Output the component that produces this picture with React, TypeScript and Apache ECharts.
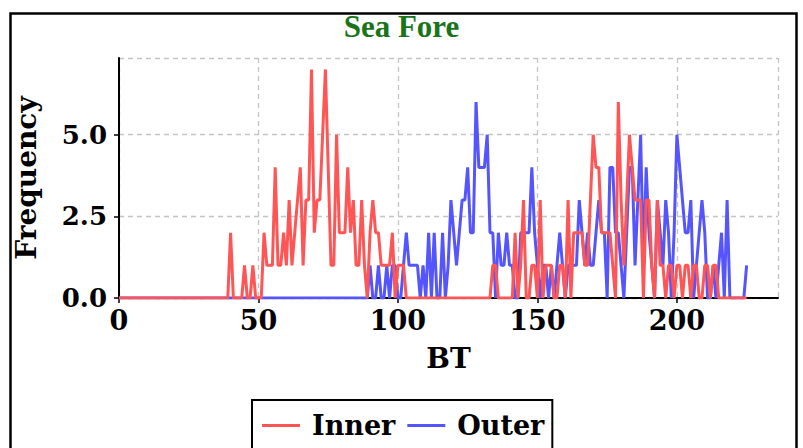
import React, { useEffect, useRef } from "react";
import * as echarts from "echarts";

// Frequency per BT value (index = BT, 0..225)
const innerFreq: number[] = [
  0, 0, 0, 0, 0, 0, 0, 0, 0, 0,
  0, 0, 0, 0, 0, 0, 0, 0, 0, 0,
  0, 0, 0, 0, 0, 0, 0, 0, 0, 0,
  0, 0, 0, 0, 0, 0, 0, 0, 0, 0,
  2, 0, 0, 0, 0, 1, 0, 0, 1, 0,
  0, 0, 2, 1, 1, 1, 4, 1, 1, 2,
  1, 3, 1, 2, 3, 4, 1, 3, 3, 7,
  2, 3, 3, 5, 7, 4, 1, 1, 5, 2,
  2, 2, 4, 2, 3, 1, 1, 3, 1, 0,
  2, 3, 2, 2, 1, 1, 1, 1, 2, 0,
  1, 1, 1, 0, 0, 0, 0, 0, 0, 0,
  0, 0, 0, 0, 0, 0, 0, 0, 0, 0,
  0, 0, 0, 0, 0, 0, 0, 0, 0, 0,
  0, 0, 0, 0, 1, 1, 0, 0, 0, 0,
  0, 0, 2, 0, 1, 3, 0, 0, 1, 1,
  0, 3, 0, 1, 1, 1, 0, 0, 1, 1,
  0, 3, 0, 2, 2, 2, 2, 1, 1, 3,
  5, 4, 4, 2, 2, 2, 2, 1, 0, 6,
  3, 1, 3, 5, 4, 3, 3, 3, 0, 3,
  3, 1, 0, 3, 1, 1, 0, 1, 1, 0,
  1, 1, 0, 1, 1, 0, 1, 1, 0, 0,
  1, 1, 0, 1, 1, 0, 0, 0, 0, 0,
  0, 0, 0, 0, 0, 0,
];

const outerFreq: number[] = [
  0, 0, 0, 0, 0, 0, 0, 0, 0, 0,
  0, 0, 0, 0, 0, 0, 0, 0, 0, 0,
  0, 0, 0, 0, 0, 0, 0, 0, 0, 0,
  0, 0, 0, 0, 0, 0, 0, 0, 0, 0,
  0, 0, 0, 0, 0, 0, 0, 0, 0, 0,
  0, 0, 0, 0, 0, 0, 0, 0, 0, 0,
  0, 0, 0, 0, 0, 0, 0, 0, 0, 0,
  0, 0, 0, 0, 0, 0, 0, 0, 0, 0,
  0, 0, 0, 0, 0, 0, 0, 0, 0, 0,
  1, 0, 0, 1, 0, 0, 1, 0, 1, 1,
  0, 0, 1, 2, 1, 1, 1, 1, 0, 1,
  0, 2, 0, 2, 0, 0, 2, 0, 1, 3,
  2, 1, 2, 3, 3, 4, 2, 2, 6, 4,
  4, 4, 5, 2, 2, 0, 2, 1, 1, 2,
  1, 1, 0, 0, 2, 2, 2, 2, 4, 2,
  1, 0, 1, 1, 0, 1, 0, 1, 2, 1,
  0, 1, 1, 1, 1, 3, 2, 1, 2, 1,
  1, 2, 3, 2, 2, 0, 4, 4, 2, 2,
  1, 0, 2, 4, 4, 1, 3, 5, 1, 4,
  2, 1, 0, 3, 2, 1, 3, 2, 0, 2,
  5, 4, 3, 2, 2, 3, 0, 1, 2, 3,
  2, 0, 0, 1, 0, 1, 2, 0, 3, 0,
  0, 0, 0, 0, 0, 1,
];

const seriesNames = ["Inner", "Outer"];
const seriesColors = ["#ff5555", "#5555ff"];
const titleText = "Sea Fore";
const xName = "BT";
const yName = "Frequency";

const SERIF = "DejaVu Serif";

export default function App() {
  const ref = useRef<HTMLDivElement>(null);

  useEffect(() => {
    document.body.style.margin = "0";
    if (!ref.current) return;
    const chart = echarts.init(ref.current, null, { renderer: "svg" });
    const toPairs = (arr: number[]) => arr.map((v, i) => [i, v]);

    chart.setOption({
      animation: false,
      backgroundColor: "#ffffff",
      title: {
        text: titleText,
        left: "center",
        top: 6,
        textStyle: {
          fontFamily: "Liberation Serif",
          fontWeight: "bold",
          fontSize: 31,
          color: "#1a741a",
        },
      },
      graphic: [
        {
          type: "rect",
          shape: { x: 10.5, y: 13.5, width: 786, height: 470 },
          style: { fill: "none", stroke: "#000", lineWidth: 2.5 },
          silent: true,
          z: 100,
        },
      ],
      legend: {
        data: seriesNames,
        left: 252,
        top: 400,
        orient: "horizontal",
        icon: "rect",
        padding: [12, 8, 16, 10],
        itemGap: 12,
        itemWidth: 38,
        itemHeight: 3,
        borderColor: "#000",
        borderWidth: 2,
        borderRadius: 0,
        textStyle: {
          fontFamily: SERIF,
          fontWeight: "bold",
          fontSize: 27,
          color: "#000",
          padding: [0, 0, 0, 7],
        },
      },
      grid: { left: 119, right: 25, top: 58, bottom: 150, containLabel: false },
      xAxis: {
        type: "value",
        min: 0,
        max: 236.25,
        interval: 50,
        name: xName,
        nameLocation: "middle",
        nameGap: 46,
        nameTextStyle: { fontFamily: SERIF, fontWeight: "bold", fontSize: 28, color: "#000" },
        axisLine: { show: true, lineStyle: { color: "#000", width: 2 } },
        axisTick: { show: true, length: 5, lineStyle: { color: "#000", width: 1.5 } },
        axisLabel: {
          fontFamily: SERIF,
          fontWeight: "bold",
          fontSize: 27,
          color: "#000",
          margin: 9,
          showMaxLabel: false,
        },
        splitLine: { show: true, lineStyle: { color: "#c4c4c4", width: 1.3, type: [5, 4] } },
      },
      yAxis: {
        type: "value",
        min: 0,
        max: 7.35,
        interval: 2.5,
        name: yName,
        nameLocation: "middle",
        nameGap: 79,
        nameRotate: 90,
        nameTextStyle: { fontFamily: SERIF, fontWeight: "bold", fontSize: 28, color: "#000" },
        axisLine: { show: true, lineStyle: { color: "#000", width: 2 } },
        axisTick: { show: true, length: 5, lineStyle: { color: "#000", width: 1.5 } },
        axisLabel: {
          fontFamily: SERIF,
          fontWeight: "bold",
          fontSize: 26,
          color: "#000",
          margin: 12,
          formatter: (v: number) => v.toFixed(1),
          showMaxLabel: false,
        },
        splitLine: { show: true, lineStyle: { color: "#c4c4c4", width: 1.3, type: [5, 4] } },
      },
      series: [
        {
          name: seriesNames[1],
          type: "line",
          data: toPairs(outerFreq),
          symbol: "none",
          color: seriesColors[1],
          lineStyle: { width: 3, color: seriesColors[1] },
          z: 2,
        },
        {
          name: seriesNames[0],
          type: "line",
          data: toPairs(innerFreq),
          symbol: "none",
          color: seriesColors[0],
          lineStyle: { width: 3, color: seriesColors[0] },
          z: 3,
        },
      ],
    });

    return () => chart.dispose();
  }, []);

  return <div ref={ref} style={{ width: 803, height: 448 }} />;
}
